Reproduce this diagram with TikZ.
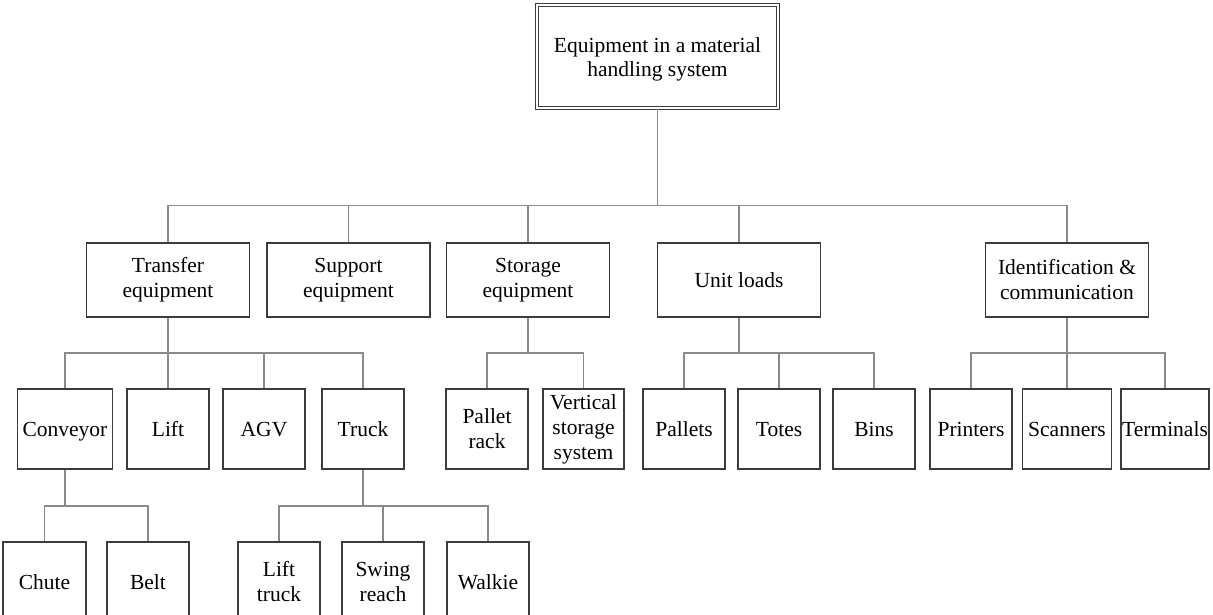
\documentclass[tikz,border=0pt]{standalone}
\usepackage{fontspec}
\setmainfont{Liberation Serif}
\definecolor{boxline}{HTML}{3C3C3C}
\definecolor{linkline}{HTML}{8A8A8A}
\begin{document}
\begin{tikzpicture}[x=1pt,y=-1pt,
  basebox/.style={draw=boxline, line width=1.5pt, fill=white, inner sep=0pt,
    align=center, font=\fontsize{21.5}{25}\selectfont},
  rootbox/.style={basebox, double=white, double distance=2pt, line width=1.2pt,
    minimum width=241, minimum height=103},
  roottext/.style={inner sep=0pt, align=center, font=\fontsize{21.5}{24.5}\selectfont},
  catbox/.style={basebox, minimum height=74},
  itembox/.style={basebox, minimum height=80},
  oneline/.style={text height=15pt, text depth=0pt},
  conn/.style={draw=linkline, line width=1.5pt}]
\useasboundingbox (0,0) rectangle (1213,615);

% top node
\node[rootbox] (root) at (657.5,56.5) {};
\node[roottext] (rootlabel) at (657.5,59.5) {Equipment in a material\\handling system};

% categories
\node[catbox, minimum width=163] (transfer) at (168,280) {Transfer\\equipment};
\node[catbox, minimum width=163] (support) at (348.5,280) {Support\\equipment};
\node[catbox, minimum width=163] (storage) at (528,280) {Storage\\equipment};
\node[catbox, oneline, minimum width=163] (unit) at (739,280) {Unit loads};
\node[catbox, minimum width=163] (ident) at (1067,280) {Identification \&\\communication};

% transfer equipment
\node[itembox, oneline, minimum width=95] (conveyor) at (65,429) {Conveyor};
\node[itembox, oneline, minimum width=82] (lift) at (168,429) {Lift};
\node[itembox, oneline, minimum width=82] (agv) at (264,429) {AGV};
\node[itembox, oneline, minimum width=82] (truck) at (363,429) {Truck};

% storage equipment
\node[itembox, minimum width=82] (rack) at (487,429) {Pallet\\rack};
\node[itembox, minimum width=81] (vss) at (583.5,429) {Vertical\\storage\\system};

% unit loads
\node[itembox, oneline, minimum width=82] (pallets) at (684,429) {Pallets};
\node[itembox, oneline, minimum width=82] (totes) at (779,429) {Totes};
\node[itembox, oneline, minimum width=82] (bins) at (874,429) {Bins};

% identification & communication
\node[itembox, oneline, minimum width=82] (printers) at (971,429) {Printers};
\node[itembox, oneline, minimum width=89] (scanners) at (1067,429) {Scanners};
\node[itembox, oneline, minimum width=88] (terminals) at (1165,429) {Terminals};

% conveyor types
\node[itembox, oneline, minimum width=83] (chute) at (44.5,582) {Chute};
\node[itembox, oneline, minimum width=82] (belt) at (148,582) {Belt};

% truck types
\node[itembox, minimum width=82] (lifttruck) at (279,582) {Lift\\truck};
\node[itembox, minimum width=82] (swing) at (383,582) {Swing\\reach};
\node[itembox, oneline, minimum width=82] (walkie) at (488,582) {Walkie};

% connectors
\foreach \c in {transfer,support,storage,unit,ident}
  \draw[conn] (root.south) -- ++(0,97) -| (\c.north);
\foreach \c in {conveyor,lift,agv,truck}
  \draw[conn] (transfer.south) -- ++(0,35) -| (\c.north);
\foreach \c in {rack,vss}
  \draw[conn] (storage.south) -- ++(0,35) -| (\c.north);
\foreach \c in {pallets,totes,bins}
  \draw[conn] (unit.south) -- ++(0,35) -| (\c.north);
\foreach \c in {printers,scanners,terminals}
  \draw[conn] (ident.south) -- ++(0,35) -| (\c.north);
\foreach \c in {chute,belt}
  \draw[conn] (conveyor.south) -- ++(0,36) -| (\c.north);
\foreach \c in {lifttruck,swing,walkie}
  \draw[conn] (truck.south) -- ++(0,36) -| (\c.north);
\end{tikzpicture}
\end{document}
